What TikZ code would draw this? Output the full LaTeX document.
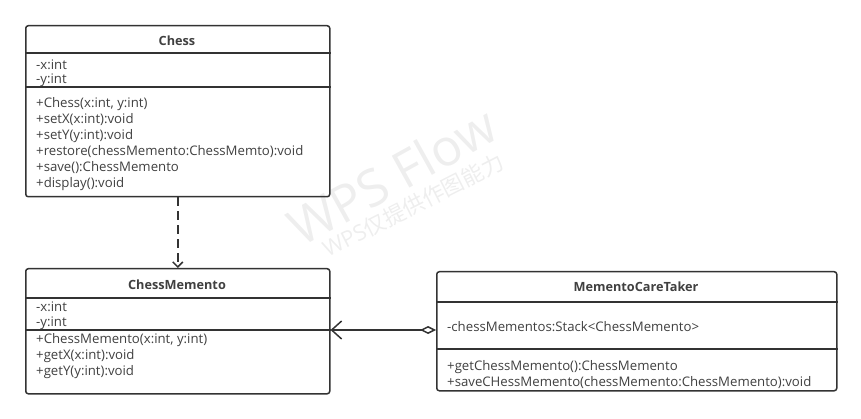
\documentclass[tikz,border=0pt]{standalone}
\usepackage{fontspec}
\setmainfont{Open Sans}
\newfontfamily\cjk{Noto Sans CJK SC}
\usetikzlibrary{arrows.meta}
\definecolor{umlline}{HTML}{333333}
\definecolor{umltext}{HTML}{404040}
\definecolor{wmark}{HTML}{EEEEEE}

\tikzset{
    classbox/.style={draw=umlline, line width=1.5pt, rounded corners=2.5pt,
        anchor=north west, inner sep=0pt},
    classname/.style={font=\fontsize{12.7}{14}\selectfont\bfseries, text=umltext, inner sep=0pt},
    member/.style={anchor=west, font=\fontsize{13.2}{15}\selectfont, text=umltext, inner sep=0pt},
    sepline/.style={draw=umlline, line width=1.5pt},
}

\begin{document}
\begin{tikzpicture}[x=1pt, y=-1pt]
    \useasboundingbox (0,0) rectangle (861,419);

    % Watermark
    \node[wmark, rotate=29, font=\fontsize{51}{51}\selectfont] (wps) at (392,176) {WPS Flow};
    \node[wmark, rotate=27, font=\fontsize{22}{22}\selectfont] (wpsnote) at (413,205) {WPS\cjk 仅提供作图能力};

    % Chess
    \node[classbox, minimum width=304pt, minimum height=171pt] (chess) at (25,25) {};
    \draw[sepline] ([yshift=-28pt]chess.north west) -- ([yshift=-28pt]chess.north east);
    \draw[sepline] ([yshift=-62pt]chess.north west) -- ([yshift=-62pt]chess.north east);
    \node[classname] (chesstitle) at (177,41) {Chess};
    \node[member] (chessx) at (36,65) {-x:int};
    \node[member] (chessy) at (36,80) {-y:int};
    \node[member] (chessm1) at (36,104) {+Chess(x:int, y:int)};
    \node[member] (chessm2) at (36,120) {+setX(x:int):void};
    \node[member] (chessm3) at (36,136) {+setY(y:int):void};
    \node[member] (chessm4) at (36,152) {+restore(chessMemento:ChessMemto):void};
    \node[member] (chessm5) at (36,168) {+save():ChessMemento};
    \node[member] (chessm6) at (36,184) {+display():void};

    % ChessMemento
    \node[classbox, minimum width=304pt, minimum height=125pt] (memento) at (25,268) {};
    \draw[sepline] ([yshift=-30pt]memento.north west) -- ([yshift=-30pt]memento.north east);
    \draw[sepline] ([yshift=-62pt]memento.north west) -- ([yshift=-62pt]memento.north east);
    \node[classname] (mementotitle) at (177,285) {ChessMemento};
    \node[member] (mementox) at (36,307) {-x:int};
    \node[member] (mementoy) at (36,323) {-y:int};
    \node[member] (mementom1) at (36,340) {+ChessMemento(x:int, y:int)};
    \node[member] (mementom2) at (36,356) {+getX(x:int):void};
    \node[member] (mementom3) at (36,372) {+getY(y:int):void};

    % MementoCareTaker
    \node[classbox, minimum width=400pt, minimum height=119pt] (taker) at (436,271) {};
    \draw[sepline] ([yshift=-31pt]taker.north west) -- ([yshift=-31pt]taker.north east);
    \draw[sepline] ([yshift=-78pt]taker.north west) -- ([yshift=-78pt]taker.north east);
    \node[classname] (takertitle) at (636,287) {MementoCareTaker};
    \node[member] (takerstack) at (447,327) {-chessMementos:Stack<ChessMemento>};
    \node[member] (takerm1) at (447,367) {+getChessMemento():ChessMemento};
    \node[member] (takerm2) at (447,383) {+saveCHessMemento(chessMemento:ChessMemento):void};

    % Dependency and aggregation
    \draw[umlline, line width=1.5pt, dash pattern=on 9pt off 5pt,
        -{Straight Barb[length=5pt, width=10pt]}] (chess.south) -- (memento.north);
    \draw[umlline, line width=1.5pt,
        {Diamond[open, length=16pt, width=8pt]}-{Straight Barb[length=10pt, width=18pt]}]
        ([yshift=-59pt]taker.north west) -- ([yshift=-62pt]memento.north east);

\end{tikzpicture}
\end{document}
